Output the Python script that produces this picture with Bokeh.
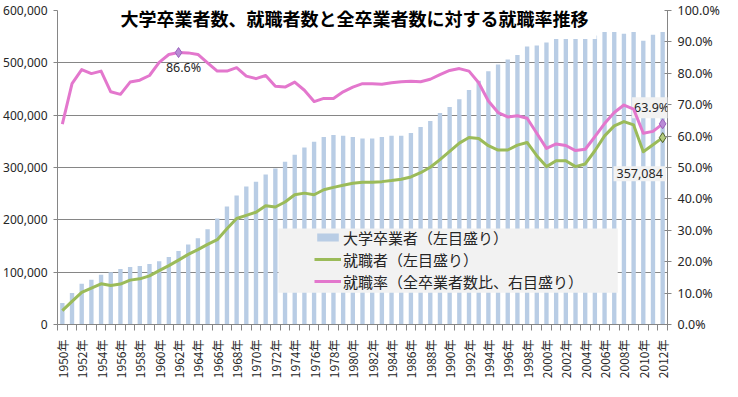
import math
from bokeh.plotting import figure
from bokeh.models import (Range1d, LinearAxis, FixedTicker, SingleIntervalTicker, NumeralTickFormatter,
                          PrintfTickFormatter, CustomJSTickFormatter, Legend, LegendItem, Label, BoxAnnotation)
from bokeh.embed import file_html
from bokeh.resources import INLINE

title_text = "大学卒業者数、就職者数と全卒業者数に対する就職率推移"
legend_labels = ["大学卒業者（左目盛り）", "就職者（左目盛り）", "就職率（全卒業者数比、右目盛り）"]

years = list(range(1950, 2013))

graduates = [41000, 60000, 78000, 85500, 95000, 100000, 106000, 110000, 112000, 115500,
             121000, 129000, 140500, 153000, 165000, 182000, 202500, 225500, 246500, 263500,
             273000, 286500, 298000, 311000, 324500, 338000, 349000, 358500, 362000, 360500,
             358500, 355500, 355500, 358500, 360500, 360500, 366000, 377500, 389000, 404000,
             415500, 430500, 448000, 466000, 484000, 497000, 506500, 515000, 531000, 533000,
             539000, 546000, 548000, 546000, 550500, 552000, 559000, 559000, 555500, 559000,
             542000, 553500, 558692]

employed = [26600, 44300, 61400, 69600, 77800, 74600, 77200, 84800, 87300, 93000,
            103000, 112500, 123000, 134000, 143000, 153000, 162000, 183000, 202500, 208500,
            214500, 227000, 224500, 234000, 248000, 251000, 248000, 257500, 262000, 266000,
            270000, 272000, 272000, 273000, 275000, 277500, 282000, 290000, 300500, 315000,
            330700, 346600, 357300, 355400, 341600, 333400, 333400, 342800, 347800, 322600,
            301700, 313000, 313000, 301700, 306800, 332000, 360500, 379500, 387700, 381400,
            330000, 343400, 357084]

rate = [63.8, 76.7, 81.2, 79.9, 80.7, 74.1, 73.3, 77.2, 77.8, 79.3,
        83.5, 86.0, 86.6, 86.5, 86.0, 83.3, 80.7, 80.7, 81.8, 79.1,
        78.3, 79.3, 75.9, 75.6, 77.2, 74.6, 71.0, 72.0, 72.0, 74.1,
        75.6, 76.7, 76.7, 76.5, 77.0, 77.3, 77.5, 77.3, 78.1, 79.6,
        80.9, 81.5, 80.7, 77.0, 71.2, 67.5, 66.1, 66.5, 65.7, 60.9,
        56.1, 57.5, 57.0, 55.4, 55.8, 59.8, 64.0, 67.5, 69.9, 68.6,
        60.9, 61.5, 63.9]

tick_years = years[::2]

BAR = "#b9cde5"
GREEN = "#9bbb59"
PINK = "#e377cd"
GRID = "#868686"
TXT = "#262626"

p = figure(width=722, height=381, output_backend="svg", toolbar_location=None,
           x_range=Range1d(1949.5, 2012.5), y_range=Range1d(0, 600000),
           min_border_left=55, min_border_right=54, min_border_top=10, min_border_bottom=54)
p.extra_y_ranges = {"rate": Range1d(0, 100)}
p.outline_line_color = None
p.xgrid.visible = False
p.ygrid.grid_line_color = GRID
p.ygrid.grid_line_width = 1

# left axis
yl = p.yaxis[0]
yl.ticker = SingleIntervalTicker(interval=100000)
yl.formatter = NumeralTickFormatter(format="0,0")
yl.axis_line_color = GRID
yl.major_tick_line_color = GRID
yl.major_tick_out = 4
yl.major_tick_in = 0
yl.minor_tick_line_color = None
yl.major_label_standoff = 6
yl.major_label_text_font = "Noto Sans"
yl.major_label_text_font_size = "12px"
yl.major_label_text_color = TXT

# right axis
yr = LinearAxis(y_range_name="rate", ticker=SingleIntervalTicker(interval=10),
                formatter=PrintfTickFormatter(format="%.1f%%"))
yr.axis_line_color = GRID
yr.major_tick_line_color = GRID
yr.major_tick_out = 4
yr.major_tick_in = 3
yr.minor_tick_line_color = None
yr.major_label_standoff = 6
yr.major_label_text_font = "Noto Sans"
yr.major_label_text_font_size = "12.5px"
yr.major_label_text_color = TXT
p.add_layout(yr, "right")

# x axis
xa = p.xaxis[0]
xa.ticker = FixedTicker(ticks=tick_years, minor_ticks=[y - 0.5 for y in years] + [years[-1] + 0.5])
xa.formatter = CustomJSTickFormatter(code="return tick.toFixed(0) + '年'")
xa.major_label_orientation = math.pi / 2
xa.axis_line_color = GRID
xa.major_tick_line_color = None
xa.major_tick_out = 0
xa.major_tick_in = 0
xa.minor_tick_line_color = GRID
xa.minor_tick_out = 6
xa.minor_tick_in = 0
xa.major_label_standoff = 9
xa.major_label_text_font = "Noto Sans CJK JP"
xa.major_label_text_font_size = "12px"
xa.major_label_text_color = TXT

bars = p.vbar(x=years, top=graduates, width=0.45, fill_color=BAR, line_color=None)
gl = p.line(years, employed, line_color=GREEN, line_width=3, line_join="round")
pl = p.line(years, rate, y_range_name="rate", line_color=PINK, line_width=3, line_join="round",
            level="overlay")

i62 = years.index(1962)
iend = len(years) - 1
p.scatter([years[i62], years[iend]], [rate[i62], rate[iend]], y_range_name="rate",
          marker="diamond", size=10, fill_color="#b98bd6", line_color="#9b62bd", line_width=1,
          level="overlay")
p.scatter([years[iend]], [employed[iend]], marker="diamond", size=10,
          fill_color="#b3cb7e", line_color="#4f6228", line_width=1)

lab_font = "Noto Sans"
p.add_layout(Label(x=years[i62], y=rate[i62], y_range_name="rate", text=f"{rate[i62]:.1f}%",
                   x_offset=5, y_offset=-15, text_align="center", text_baseline="middle",
                   text_font=lab_font, text_font_size="12.5px", text_color=TXT))
p.add_layout(Label(x=years[iend], y=rate[iend], y_range_name="rate", text=f"{rate[iend]:.1f}%",
                   x_offset=-11, y_offset=16, text_align="center", text_baseline="middle",
                   text_font=lab_font, text_font_size="12.5px", text_color=TXT,
                   background_fill_color="#f2f2f2", padding=2))
p.add_layout(Label(x=years[iend], y=employed[iend], text=f"{employed[iend]:,}",
                   x_offset=-23, y_offset=-36, text_align="center", text_baseline="middle",
                   text_font=lab_font, text_font_size="12.5px", text_color=TXT,
                   background_fill_color="#f2f2f2", padding=3))

# title inside the plot area
p.add_layout(Label(x=1980.18, y=585800, text=title_text, text_align="center", text_baseline="middle",
                   text_font="Noto Sans CJK JP", text_font_style="bold", text_font_size="18px",
                   text_color="#000000", background_fill_color="white", padding=8))

# legend background box
p.add_layout(BoxAnnotation(left=1972.32, right=2007.36, bottom=60570, top=183600,
                           fill_color="#f2f2f2", fill_alpha=1.0, line_color=None))

legend = Legend(items=[LegendItem(label=legend_labels[0], renderers=[bars]),
                       LegendItem(label=legend_labels[1], renderers=[gl]),
                       LegendItem(label=legend_labels[2], renderers=[pl])],
                location=(257, 32), padding=0, margin=0, spacing=0,
                glyph_width=27, glyph_height=10, label_height=22, label_standoff=2,
                label_text_font="Noto Sans CJK JP", label_text_font_size="15px",
                label_text_color=TXT, background_fill_alpha=0, border_line_color=None)
p.add_layout(legend, "center")

open("out.html", "w").write(file_html(p, INLINE))
